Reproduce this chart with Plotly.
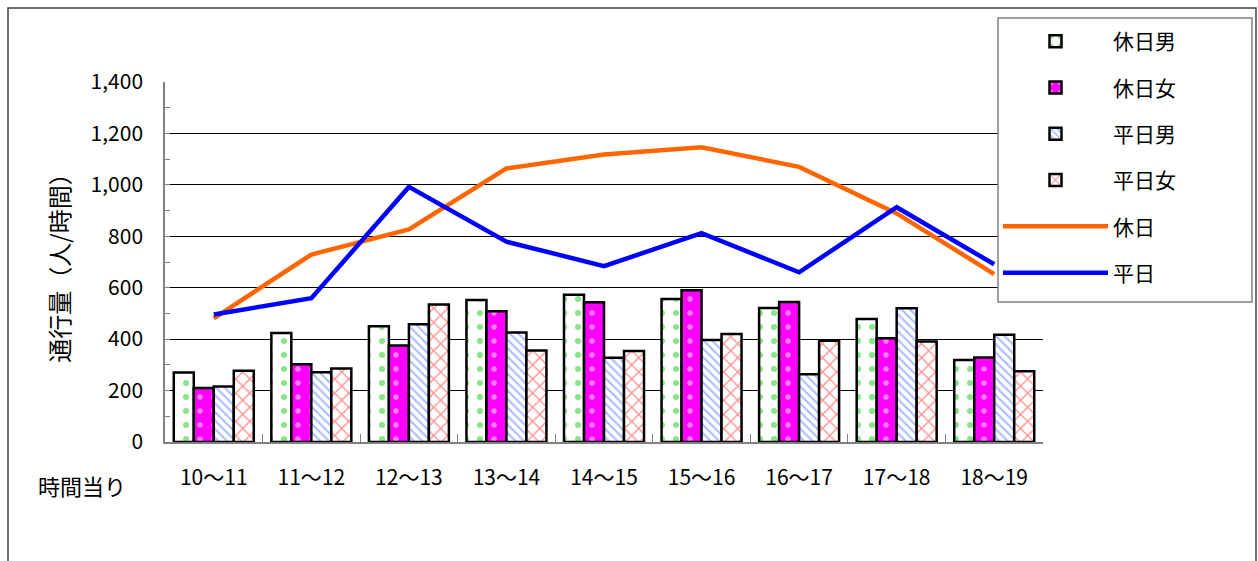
import plotly.graph_objects as go

categories = ["10～11", "11～12", "12～13", "13～14", "14～15", "15～16", "16～17", "17～18", "18～19"]
holiday_male = [270, 424, 450, 552, 573, 556, 521, 478, 319]
holiday_female = [210, 302, 375, 508, 543, 590, 544, 403, 329]
weekday_male = [216, 271, 458, 426, 328, 397, 263, 520, 417]
weekday_female = [277, 286, 535, 356, 354, 420, 394, 391, 275]
holiday_total = [481, 729, 827, 1064, 1118, 1146, 1070, 889, 653]
weekday_total = [496, 559, 992, 779, 684, 812, 660, 913, 691]

FONT = "Noto Sans CJK JP"

# plot-area pixel geometry in page coords (body margin removed below)
L, R, T, B = 165, 1043, 82, 442
W, H = 1258, 561
def px(x):
    return (x - L) / (R - L)
def py(y):
    return (B - y) / (B - T)

fig = go.Figure()

bar_specs = [
    ("休日男", holiday_male, dict(shape=".", fgcolor="#11cc11", bgcolor="white", size=14, solidity=0.15)),
    ("休日女", holiday_female, dict(shape=".", fgcolor="white", bgcolor="#ff00ff", size=14, solidity=0.12)),
    ("平日男", weekday_male, dict(shape="\\", fgcolor="#5577ff", bgcolor="white", size=6, solidity=0.35)),
    ("平日女", weekday_female, dict(shape="x", fgcolor="#ff2222", bgcolor="white", size=10, solidity=0.25)),
]
for i, (name, vals, pat) in enumerate(bar_specs):
    fig.add_trace(go.Bar(
        x=categories, y=vals, name=name, legendgroup=f"g{i}",
        marker=dict(color="white", pattern=pat, line=dict(color="black", width=2.5)),
    ))

fig.add_trace(go.Scatter(x=categories, y=holiday_total, name="休日", mode="lines",
                         legendgroup="g4", line=dict(color="#ff6600", width=4.5)))
fig.add_trace(go.Scatter(x=categories, y=weekday_total, name="平日", mode="lines",
                         legendgroup="g5", line=dict(color="#0000ff", width=4.5)))

fig.update_layout(
    width=W, height=H,
    margin=dict(l=L, r=W - R, t=T, b=H - B),
    paper_bgcolor="white", plot_bgcolor="white",
    font=dict(family=FONT, size=20, color="black"),
    barmode="group", bargap=0.18, bargroupgap=0.0,
    showlegend=True,
    legend=dict(
        x=px(998), y=py(21), xanchor="left", yanchor="top",
        borderwidth=0, bgcolor="rgba(0,0,0,0)",
        font=dict(family=FONT, size=21), traceorder="grouped",
        tracegroupgap=16, itemwidth=105, maxheight=500,
    ),
    xaxis=dict(
        type="category", showline=True, linecolor="#808080", linewidth=1.5,
        ticks="inside", ticklen=8, tickcolor="#808080", tickson="boundaries",
        showgrid=False, ticklabelstandoff=16,
        tickfont=dict(family=FONT, size=21),
    ),
    yaxis=dict(
        range=[0, 1400], dtick=200, tickformat=",",
        showline=True, linecolor="#808080", linewidth=1.5,
        ticks="inside", ticklen=5, tickcolor="#808080",
        minor=dict(dtick=100, ticks="inside", ticklen=5, tickcolor="#808080"),
        showgrid=True, gridcolor="black", gridwidth=1,
        zeroline=False, ticklabelstandoff=16,
        tickfont=dict(family=FONT, size=21),
        title=dict(text="通行量（人/時間）", font=dict(family=FONT, size=24), standoff=14),
    ),
    shapes=[
        # outer chart frame
        dict(type="rect", xref="paper", yref="paper", x0=px(8), x1=px(1256), y0=py(600), y1=py(8),
             line=dict(color="#404040", width=1.5), fillcolor="rgba(0,0,0,0)", layer="below"),
        # legend frame (covers gridlines underneath)
        dict(type="rect", xref="paper", yref="paper", x0=px(998), x1=px(1252), y0=py(302), y1=py(18),
             line=dict(color="#808080", width=1.5), fillcolor="white", layer="above"),
    ],
    annotations=[
        dict(text="時間当り", xref="paper", yref="paper", x=px(82), y=py(485),
             xanchor="center", yanchor="middle", showarrow=False,
             font=dict(family=FONT, size=22)),
    ],
)

fig.write_html(
    "out.html",
    config={"displayModeBar": False},
    post_script="document.body.style.margin='0px';document.body.style.overflow='hidden';",
)
